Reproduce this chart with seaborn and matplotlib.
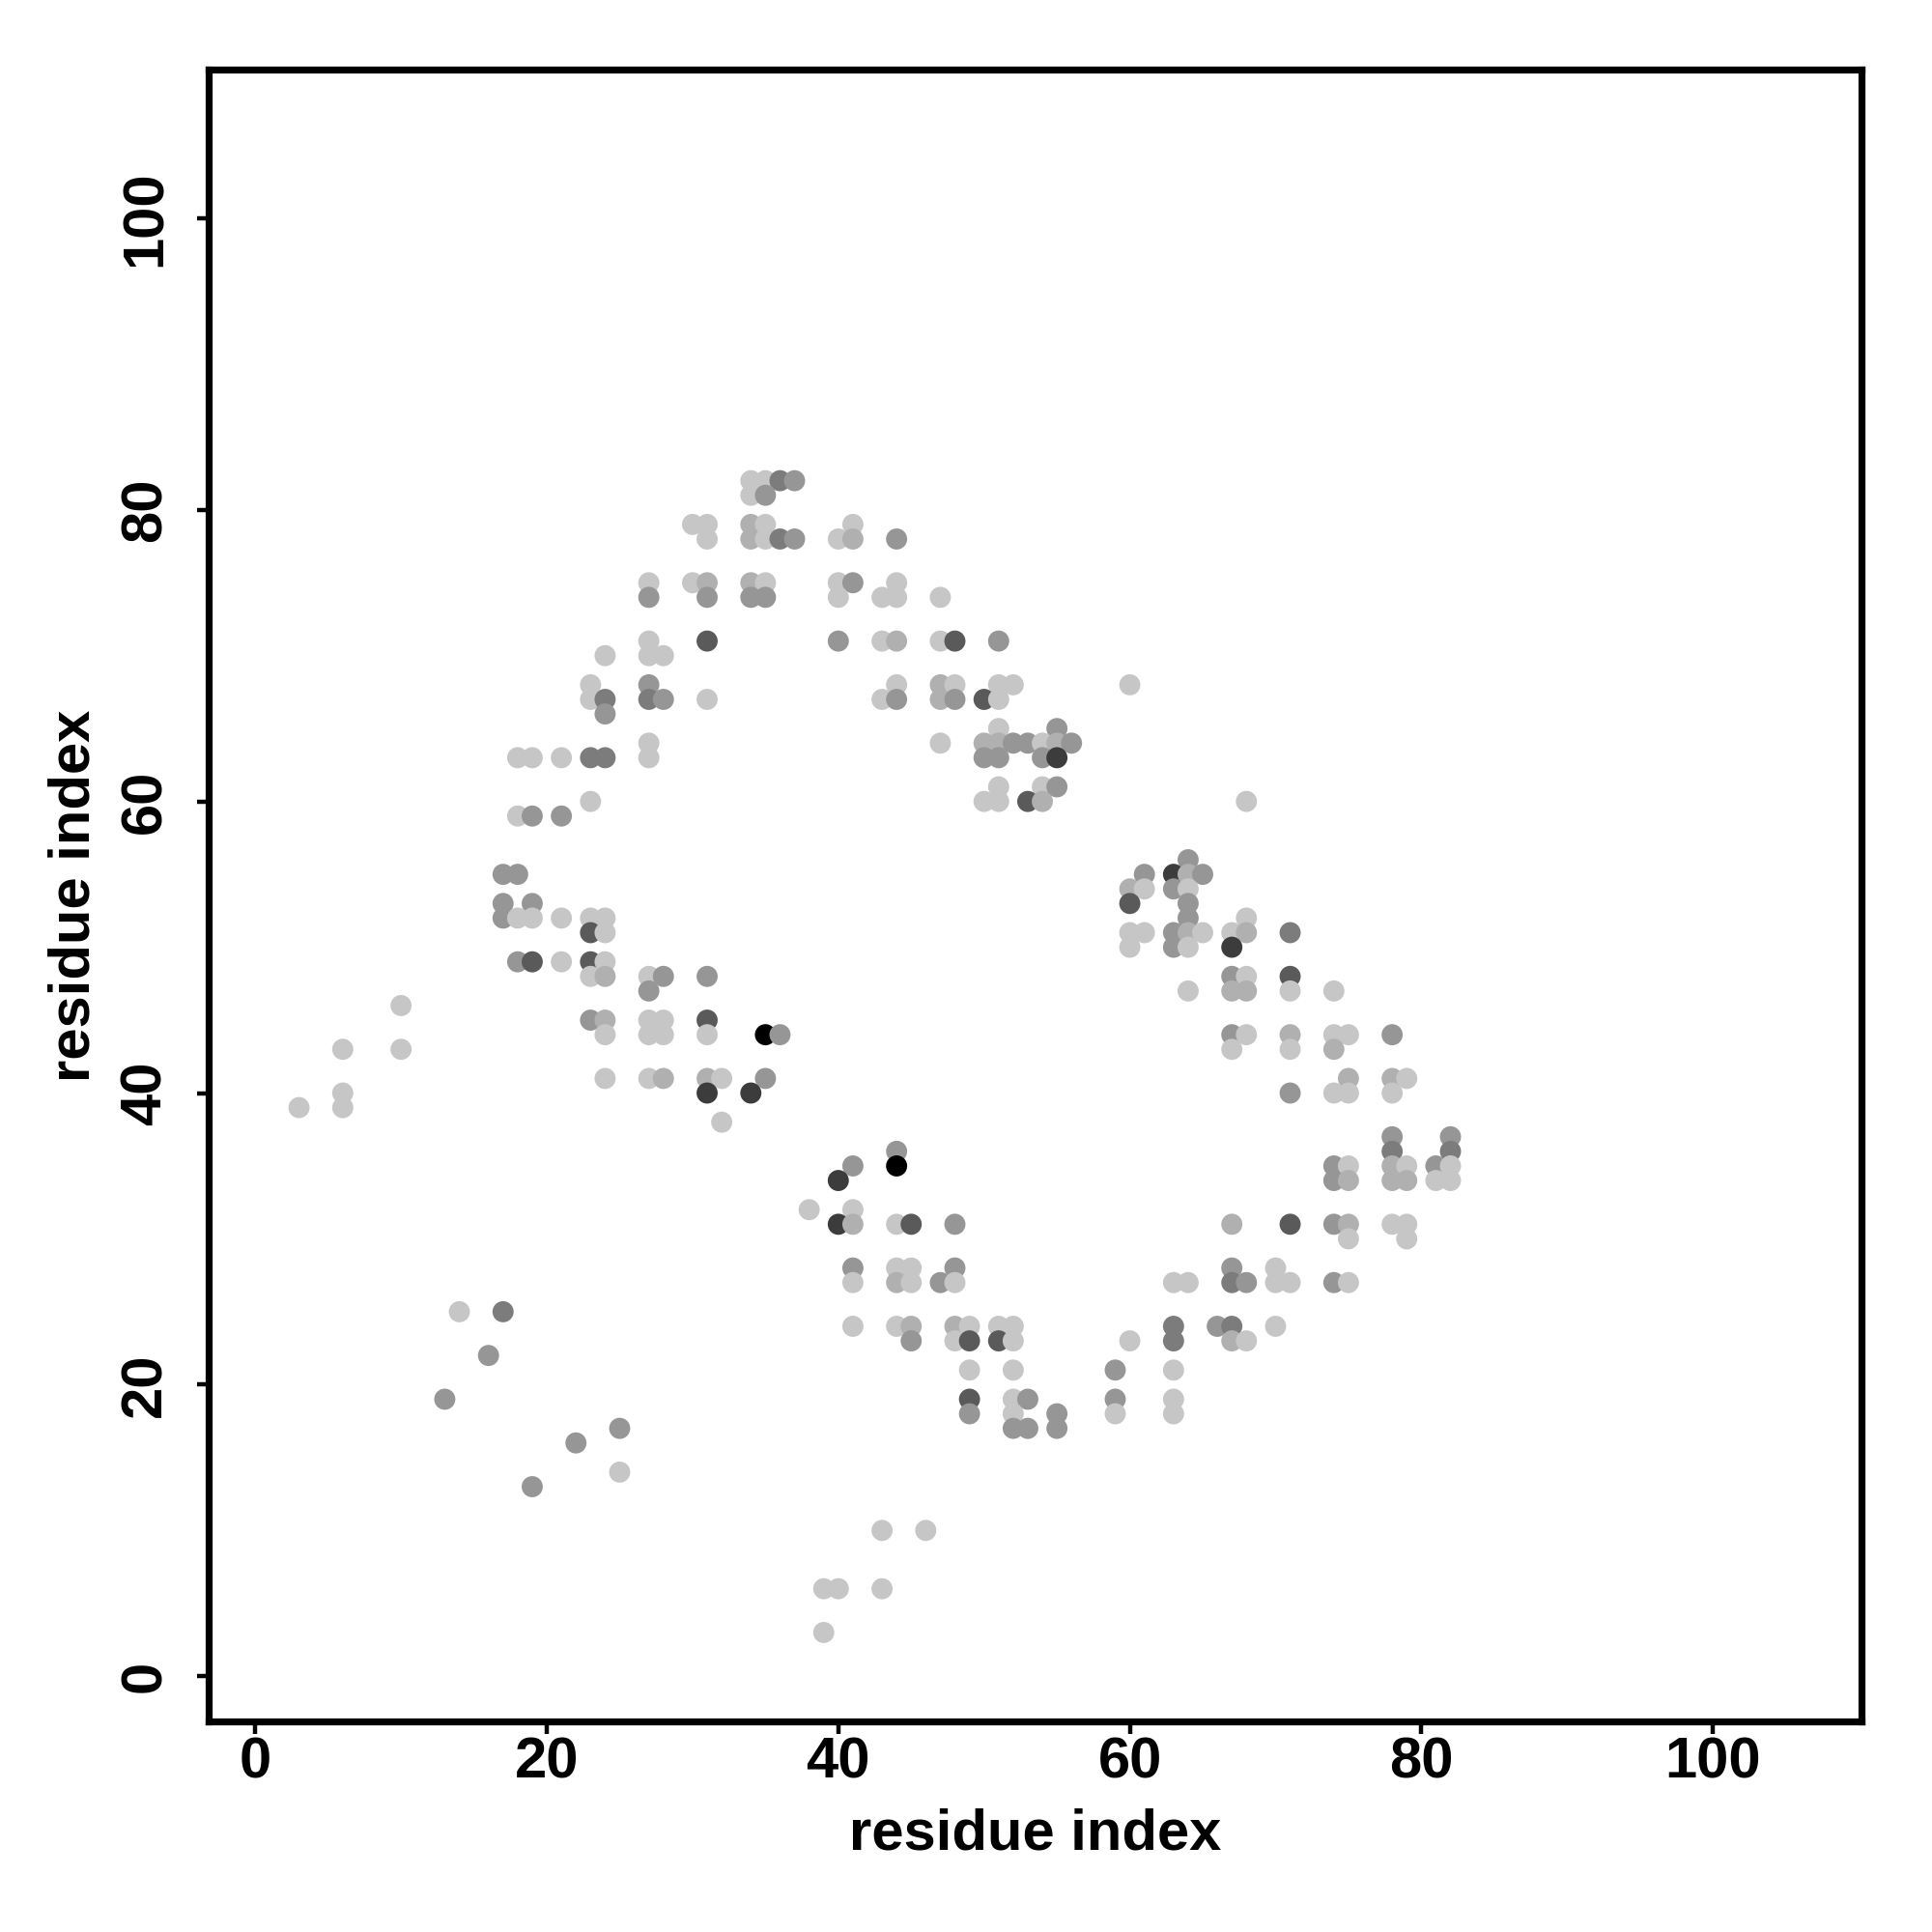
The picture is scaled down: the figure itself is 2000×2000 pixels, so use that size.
import seaborn as sns
import matplotlib.pyplot as plt
import pandas as pd

# contacts as (residue i, residue j, shade level 1 = light ... 7 = black)
far_left = [(3, 39, 1), (6, 43, 1), (6, 40, 1), (6, 39, 1), (10, 46, 1), (10, 43, 1),
            (13, 19, 3), (14, 25, 1), (16, 22, 3), (17, 25, 4), (19, 13, 3), (22, 16, 3),
            (25, 17, 3), (25, 14, 1)]

left_mid = [(17, 55, 3), (18, 55, 3), (17, 53, 3), (19, 53, 3), (17, 52, 3), (18, 52, 1),
            (19, 52, 1), (21, 52, 1), (23, 52, 1), (24, 52, 1), (23, 51, 5), (24, 51, 1),
            (18, 49, 3), (19, 49, 5), (21, 49, 1), (23, 49, 5), (24, 49, 1), (23, 48, 1),
            (24, 48, 2), (23, 45, 3), (24, 45, 2), (24, 44, 1), (24, 41, 1)]

left_top = [(18, 63, 1), (19, 63, 1), (21, 63, 1), (23, 63, 4), (24, 63, 4), (27, 63, 1),
            (27, 64, 1), (23, 60, 1), (18, 59, 1), (19, 59, 3), (21, 59, 3), (23, 68, 1),
            (27, 68, 3), (23, 67, 1), (24, 67, 4), (27, 67, 4), (28, 67, 3), (24, 66, 3),
            (24, 70, 1), (27, 70, 1), (28, 70, 1), (27, 71, 1), (27, 75, 1), (27, 74, 3)]

centre_left = [(27, 48, 1), (28, 48, 3), (27, 47, 3), (27, 45, 1), (28, 45, 1), (27, 44, 1),
               (28, 44, 1), (27, 41, 1), (28, 41, 2), (31, 48, 3), (31, 45, 5), (31, 44, 1),
               (35, 44, 7), (36, 44, 3), (31, 41, 2), (32, 41, 1), (35, 41, 3), (31, 40, 6),
               (34, 40, 6), (32, 38, 1)]

upper_arch = [(30, 79, 1), (31, 79, 1), (31, 78, 1), (30, 75, 1), (31, 75, 2), (31, 74, 3),
              (31, 71, 5), (31, 67, 1), (34, 82, 1), (35, 82, 1), (36, 82, 4), (37, 82, 3),
              (34, 81, 1), (35, 81, 3), (34, 79, 2), (35, 79, 1), (41, 79, 1), (34, 78, 2),
              (35, 78, 1), (36, 78, 4), (37, 78, 3), (40, 78, 1), (41, 78, 2), (44, 78, 3),
              (34, 75, 2), (35, 75, 1), (40, 75, 1), (41, 75, 3), (44, 75, 1), (34, 74, 3),
              (35, 74, 3), (40, 74, 1), (43, 74, 1), (44, 74, 1), (47, 74, 1), (40, 71, 3),
              (43, 71, 1), (44, 71, 2), (47, 71, 1), (48, 71, 5), (51, 71, 3), (44, 68, 1),
              (47, 68, 2), (48, 68, 1), (51, 68, 1), (52, 68, 1), (43, 67, 1), (44, 67, 3),
              (47, 67, 2), (48, 67, 3), (50, 67, 5), (51, 67, 1), (51, 65, 1), (55, 65, 3),
              (47, 64, 1), (50, 64, 2), (51, 64, 2), (52, 64, 3), (53, 64, 3), (54, 64, 1),
              (55, 64, 2), (56, 64, 3), (50, 63, 3), (51, 63, 3), (54, 63, 3), (55, 63, 6),
              (51, 61, 1), (54, 61, 1), (55, 61, 3), (50, 60, 1), (51, 60, 1), (53, 60, 5),
              (54, 60, 2)]

lower_mid = [(44, 36, 3), (41, 35, 3), (44, 35, 7), (40, 34, 6), (38, 32, 1), (41, 32, 1),
             (40, 31, 6), (41, 31, 2), (44, 31, 1), (45, 31, 5), (48, 31, 3), (41, 28, 3),
             (44, 28, 1), (45, 28, 1), (48, 28, 3), (41, 27, 1), (44, 27, 2), (45, 27, 1),
             (47, 27, 3), (48, 27, 1), (41, 24, 1), (44, 24, 1), (45, 24, 2), (48, 24, 2),
             (49, 24, 1), (51, 24, 1), (52, 24, 1), (45, 23, 3), (48, 23, 1), (49, 23, 5),
             (51, 23, 5), (52, 23, 1), (49, 21, 1), (52, 21, 1), (49, 19, 5), (52, 19, 1),
             (53, 19, 3), (49, 18, 3), (52, 18, 1), (55, 18, 3), (52, 17, 3), (53, 17, 3),
             (55, 17, 3)]

bottom = [(43, 10, 1), (46, 10, 1), (39, 6, 1), (40, 6, 1), (43, 6, 1), (39, 3, 1)]

right_low = [(59, 21, 3), (59, 19, 3), (59, 18, 1), (60, 23, 1), (63, 27, 1), (64, 27, 1),
             (63, 24, 4), (63, 23, 4), (63, 21, 1), (63, 19, 1), (63, 18, 1), (66, 24, 3),
             (67, 24, 4), (67, 23, 2), (68, 23, 1), (67, 28, 3), (70, 28, 1), (67, 27, 4),
             (68, 27, 3), (70, 27, 1), (71, 27, 1), (74, 27, 3), (75, 27, 1), (70, 24, 1),
             (67, 31, 2), (71, 31, 5), (74, 31, 3), (75, 31, 2), (78, 31, 1), (79, 31, 1),
             (75, 30, 1), (79, 30, 1)]

right_mid = [(64, 56, 3), (61, 55, 3), (63, 55, 6), (64, 55, 2), (65, 55, 3), (60, 54, 2),
             (61, 54, 1), (63, 54, 3), (64, 54, 1), (60, 53, 5), (64, 53, 3), (64, 52, 3),
             (68, 52, 1), (60, 51, 1), (61, 51, 1), (63, 51, 3), (64, 51, 2), (65, 51, 1),
             (67, 51, 1), (68, 51, 2), (71, 51, 4), (60, 50, 1), (63, 50, 3), (64, 50, 1),
             (67, 50, 6), (67, 48, 3), (68, 48, 1), (71, 48, 5), (64, 47, 1), (67, 47, 2),
             (68, 47, 2), (71, 47, 1), (74, 47, 1), (67, 44, 3), (68, 44, 1), (71, 44, 2),
             (74, 44, 1), (75, 44, 1), (78, 44, 3), (67, 43, 1), (71, 43, 1), (74, 43, 2),
             (75, 41, 2), (78, 41, 2), (79, 41, 1), (71, 40, 3), (74, 40, 1), (75, 40, 1),
             (78, 40, 1), (78, 37, 3), (82, 37, 3), (78, 36, 4), (82, 36, 4), (74, 35, 3),
             (75, 35, 1), (78, 35, 2), (79, 35, 1), (81, 35, 3), (82, 35, 1), (74, 34, 3),
             (75, 34, 2), (78, 34, 2), (79, 34, 2), (81, 34, 1), (82, 34, 1), (60, 68, 1),
             (68, 60, 1)]

ticks = [0, 20, 40, 60, 80, 100]
shade_colors = {1: "#c6c6c6", 2: "#b0b0b0", 3: "#969696", 4: "#7c7c7c",
                5: "#5a5a5a", 6: "#3c3c3c", 7: "#000000"}

rows = far_left + left_mid + left_top + centre_left + upper_arch + lower_mid + bottom + right_low + right_mid
df = pd.DataFrame(rows, columns=["i", "j", "shade"])

sns.set_style("white")
plt.rcParams["font.family"] = ["Liberation Sans", "DejaVu Sans"]
plt.rcParams["font.weight"] = "bold"
plt.rcParams["text.color"] = "black"
plt.rcParams["axes.labelcolor"] = "black"

fig = plt.figure(figsize=(10, 10), dpi=200)
ax = fig.add_axes([0.108, 0.109, 0.8555, 0.855])

sns.scatterplot(data=df, x="i", y="j", hue="shade", palette=shade_colors,
                s=62, linewidth=0, legend=False, ax=ax)

ax.set_xlim(-3.2, 110.2)
ax.set_ylim(-3.1, 110.2)
ax.set_xticks(ticks)
ax.set_yticks(ticks)
ax.set_xticklabels([str(t) for t in ticks], fontsize=21.5, fontweight="bold")
ax.set_yticklabels([str(t) for t in ticks], fontsize=21.5, fontweight="bold",
                   rotation=90, va="center")
ax.tick_params(axis="both", direction="out", length=4.5, width=1.6,
               bottom=True, left=True, colors="black")
ax.tick_params(axis="x", pad=1)
ax.tick_params(axis="y", pad=9)
ax.set_xlabel("residue index", fontsize=21.5, fontweight="bold", labelpad=7, color="black")
ax.set_ylabel("residue index", fontsize=21.5, fontweight="bold", labelpad=7, color="black")
for sp in ax.spines.values():
    sp.set_visible(True)
    sp.set_color("black")
    sp.set_linewidth(2.6)

fig.savefig("out.png", dpi=200, facecolor="white")
plt.close()
